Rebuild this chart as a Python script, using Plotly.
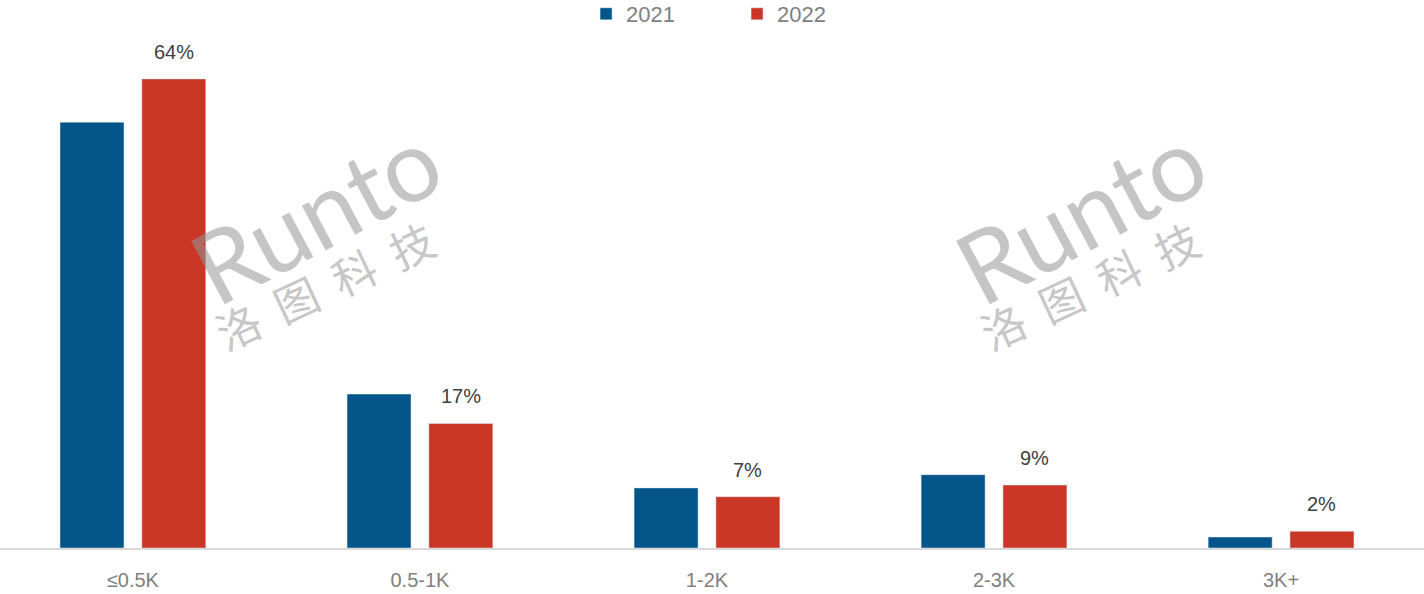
import plotly.graph_objects as go

categories = ["≤0.5K", "0.5-1K", "1-2K", "2-3K", "3K+"]
series_names = ["2021", "2022"]
values_2021 = [58.1, 21.0, 8.2, 10.0, 1.5]
values_2022 = [64, 17, 7, 8.6, 2.3]
labels_2022 = ["64%", "17%", "7%", "9%", "2%"]

blue = "#04558A"
red = "#CA3727"

W, H = 1424, 594
t, b = 20, 46
ph = H - t - b

xs = list(range(len(categories)))
bw = 0.223

fig = go.Figure()
fig.add_trace(go.Bar(x=xs, y=values_2021, name=series_names[0], marker_color=blue,
                     width=bw, offset=-0.254, hoverinfo="y"))
fig.add_trace(go.Bar(x=xs, y=values_2022, name=series_names[1], marker_color=red,
                     width=bw, offset=0.031, hoverinfo="y"))

ann = []
for i, (v, lab) in enumerate(zip(values_2022, labels_2022)):
    ann.append(dict(x=i + 0.031 + bw / 2, y=v, xref="x", yref="y", text=lab,
                    showarrow=False, yanchor="bottom", yshift=14,
                    font=dict(size=20, color="#404040", family="Liberation Sans, Arial")))

# watermarks
for dx in [0, 765]:
    ann.append(dict(x=(315 + dx) / W, y=(H - b - 212) / ph, xref="paper", yref="paper",
                    xanchor="center", yanchor="middle",
                    text="Runto", showarrow=False, textangle=-28,
                    font=dict(size=100, color="rgba(150,150,150,0.55)", family="Lato, Liberation Sans")))
    ann.append(dict(x=(324 + dx) / W, y=(H - b - 285) / ph, xref="paper", yref="paper",
                    xanchor="center", yanchor="middle",
                    text="洛  图  科  技", showarrow=False, textangle=-25,
                    font=dict(size=44, color="rgba(150,150,150,0.55)", family="Noto Sans CJK SC")))

fig.update_layout(
    width=W, height=H,
    margin=dict(l=0, r=0, t=t, b=b, autoexpand=False),
    plot_bgcolor="white", paper_bgcolor="white",
    barmode="overlay",
    showlegend=True,
    legend=dict(orientation="h", x=0.5176, xanchor="center", y=1.0 + 6 / ph, yanchor="middle",
                font=dict(size=22, color="#7f7f7f", family="Liberation Sans, Arial"),
                itemwidth=30, tracegroupgap=0, entrywidth=106),
    annotations=ann,
    xaxis=dict(range=[-0.463, 4.498], tickmode="array", tickvals=xs, ticktext=categories,
               showline=True, linecolor="#d9d9d9", linewidth=2, showgrid=False, zeroline=False,
               ticks="", ticklabelstandoff=13, automargin=False,
               tickfont=dict(size=20, color="#7f7f7f", family="Liberation Sans, Arial")),
    yaxis=dict(range=[0, ph / 7.33], visible=False, showgrid=False, zeroline=False, automargin=False),
)

fig.write_html("out.html", config={"displayModeBar": False},
               post_script="document.body.style.margin='0';document.body.style.overflow='hidden';")
